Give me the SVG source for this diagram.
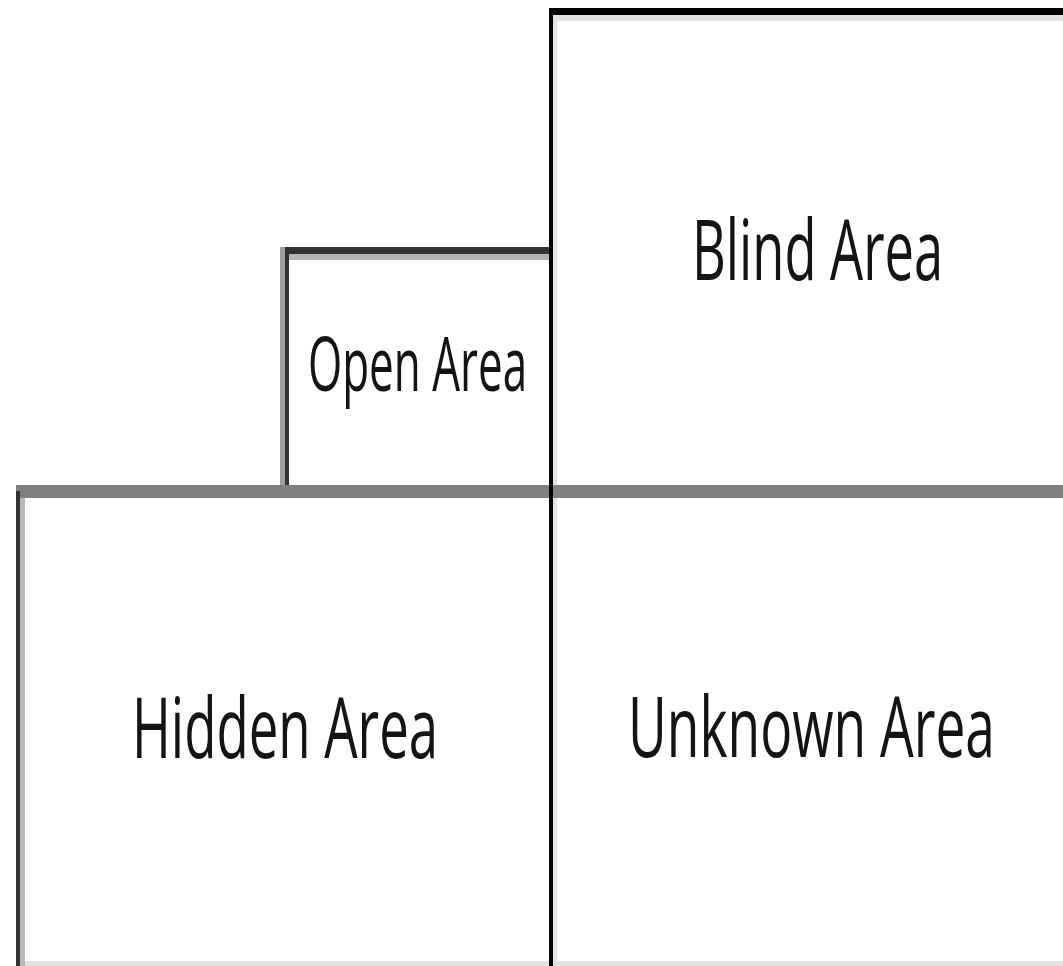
<svg xmlns="http://www.w3.org/2000/svg" width="1063" height="966" viewBox="0 0 1063 966">
<style>
.lbl{font-family:"Open Sans","Liberation Sans",sans-serif;fill:#141414;}
.big{font-size:84px;}
.small{font-size:75px;}
.shadow{fill:#e2e2e2;}
</style>
<rect x="0" y="0" width="1063" height="966" fill="#ffffff"/>
<g id="connectors">
  <rect class="shadow" x="553" y="15" width="510" height="6"/>
  <rect class="shadow" x="553" y="15" width="4" height="951"/>
  <rect x="289" y="254" width="260" height="6" fill="#b4b4b4"/>
  <rect x="280" y="247" width="5" height="244" fill="#a0a0a0"/>
  <rect x="20" y="498" width="5" height="468" fill="#b8b8b8"/>
  <rect class="shadow" x="25" y="961" width="524" height="5"/>
  <rect class="shadow" x="557" y="961" width="506" height="5"/>
  <rect x="549" y="8" width="514" height="7" fill="#000000"/>
  <rect x="285" y="247" width="264" height="7" fill="#333333"/>
  <rect x="285" y="247" width="4" height="244" fill="#333333"/>
  <rect x="16" y="485" width="1047" height="13" fill="#808080"/>
  <rect x="16" y="491" width="4" height="475" fill="#333333"/>
  <rect x="549" y="8" width="4" height="958" fill="#000000"/>
</g>
<g id="blind" transform="translate(692,280) scale(0.62,1)">
  <text class="lbl big" x="0" y="0" textLength="405" lengthAdjust="spacingAndGlyphs">Blind Area</text>
</g>
<g id="open" transform="translate(308,391) scale(0.589,1)">
  <text class="lbl small" x="0" y="0" textLength="372" lengthAdjust="spacingAndGlyphs">Open Area</text>
</g>
<g id="hidden" transform="translate(132,758) scale(0.631,1)">
  <text class="lbl big" x="0" y="0" textLength="485" lengthAdjust="spacingAndGlyphs">Hidden Area</text>
</g>
<g id="unknown" transform="translate(628,757) scale(0.636,1)">
  <text class="lbl big" x="0" y="0" textLength="577" lengthAdjust="spacingAndGlyphs">Unknown Area</text>
</g>
</svg>
